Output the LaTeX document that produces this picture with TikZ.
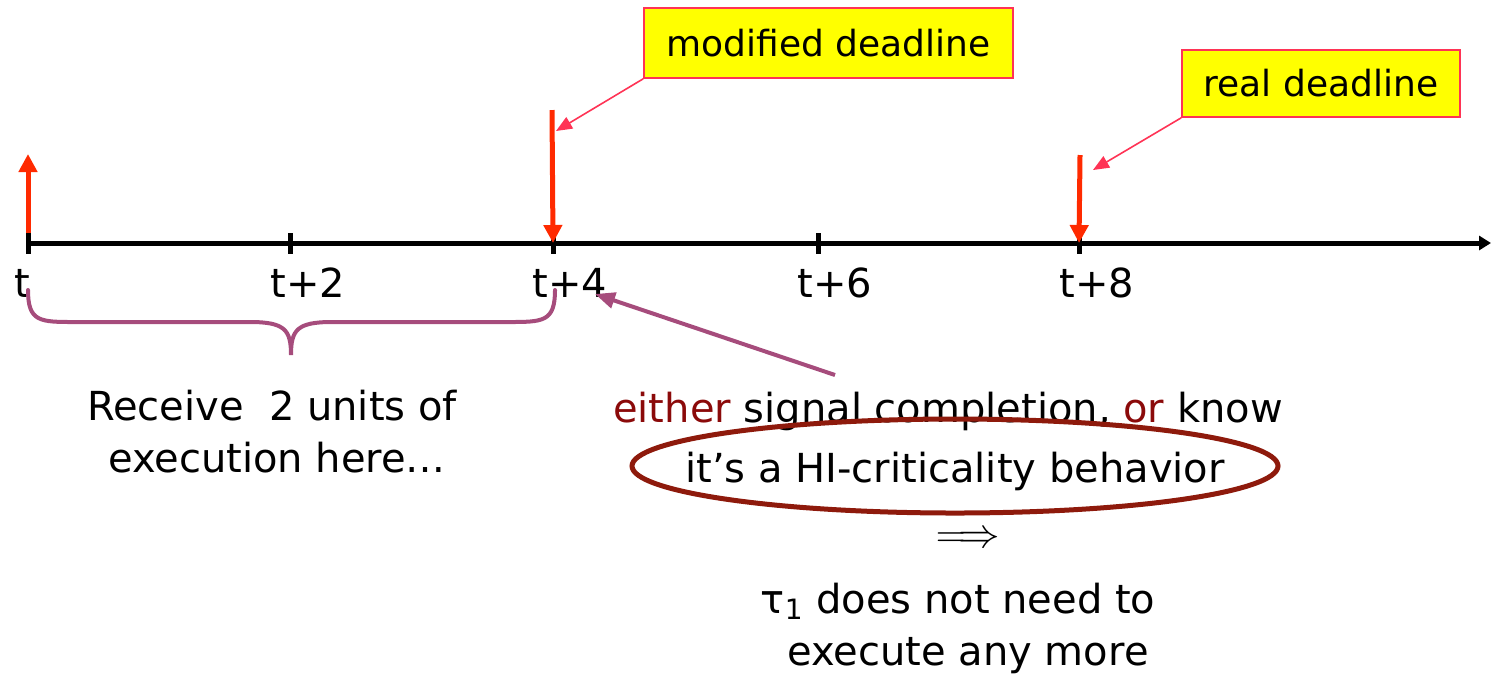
\documentclass[tikz,border=0pt]{standalone}
\usepackage{fontspec}
\setmainfont{DejaVu Sans}
\usetikzlibrary{arrows.meta}
\definecolor{arrowred}{HTML}{FF2A00}
\definecolor{calloutred}{HTML}{FF3355}
\definecolor{noteyellow}{HTML}{FFFF00}
\definecolor{bracepurple}{HTML}{A64C7C}
\definecolor{darkred}{HTML}{8B0A0A}
\definecolor{ringred}{HTML}{8E1A0C}
\newcommand{\lbl}{\fontsize{20}{24}\selectfont}
\newcommand{\notefont}{\fontsize{18}{22}\selectfont}
\tikzset{
  axisline/.style={line width=2.5pt, -{Triangle[length=6pt,width=7pt]}},
  tickmark/.style={line width=2.5pt},
  deadarrow/.style={arrowred, line width=2.5pt, -{Triangle[length=9pt,width=9pt]}},
  callout/.style={draw=calloutred, fill=noteyellow, line width=0.8pt, inner sep=0pt, font=\notefont},
  calloutarrow/.style={calloutred, line width=0.8pt, -{Triangle[length=8pt,width=6.5pt]}},
  ticklabel/.style={anchor=base, inner sep=0pt, font=\lbl},
  textline/.style={anchor=base, inner sep=0pt, font=\lbl},
  brace/.style={bracepurple, line width=2pt, line cap=round},
  pointer/.style={bracepurple, line width=2pt, -{Triangle[length=10pt,width=8pt]}}
}
\begin{document}
\begin{tikzpicture}[x=0.5pt, y=-0.5pt]
\path[use as bounding box] (0,0) rectangle (1491,677);

% time axis
\coordinate (a0) at (28,243);
\coordinate (aend) at (1491,243);
\draw[axisline] (a0) -- (aend);

% ticks
\foreach \n/\x in {0/28, 2/290, 4/553, 6/818, 8/1079}{
  \coordinate (k\n) at (\x,243);
  \draw[tickmark] (\x,233) -- (\x,254);
}
\draw[tickmark] (28,231) -- (28,243);

% tick labels
\node[ticklabel] (l0) at (22,297) {t};
\node[ticklabel] (l2) at (308,297) {t+2};
\node[ticklabel] (l4) at (570,297) {t+4};
\node[ticklabel] (l6) at (835,297) {t+6};
\node[ticklabel] (l8) at (1097,297) {t+8};

% release and deadline arrows
\coordinate (rel) at (28,154);
\draw[deadarrow] (28,233) -- (rel);
\coordinate (md) at (552,110);
\draw[deadarrow] (md) -- (k4);
\coordinate (rd) at (1080,155);
\draw[deadarrow] (rd) -- (k8);

% callouts
\node[callout, minimum width=184.5pt, minimum height=35pt] (mod) at (828.5,43) {modified deadline};
\node[callout, minimum width=139pt, minimum height=33.5pt] (real) at (1321,83.5) {real deadline};
\coordinate (modtip) at (556,131);
\coordinate (realtip) at (1093,170);
\draw[calloutarrow] (mod.south west) -- (modtip);
\draw[calloutarrow] (real.south west) -- (realtip);

% brace under the first interval
\coordinate (bl) at (28,290);
\coordinate (br) at (555,290);
\coordinate (btip) at (291,355);
\draw[brace] (bl) .. controls (28,322) and (40,322) .. (75,322) -- (250,322)
  .. controls (285,322) and (291,330) .. (btip)
  .. controls (291,330) and (297,322) .. (332,322) -- (508,322)
  .. controls (543,322) and (555,322) .. (br);

\node[textline] (rc1) at (272,420) {Receive\ \ 2 units of};
\node[textline] (rc2) at (277,472) {execution here…};

% explanation
\coordinate (pstart) at (835,375);
\coordinate (ptip) at (595,294);
\draw[pointer] (pstart) -- (ptip);

\node[textline] (ex1) at (948,422) {\textcolor{darkred}{either} signal completion, \textcolor{darkred}{or} know};
\node[textline] (ex2) at (955,482) {it’s a HI-criticality behavior};
\draw[ringred, line width=2.5pt] (955,466) ellipse [x radius=161.5pt, y radius=23.5pt];

\node[inner sep=0pt, font=\lbl] (impl) at (968,540) {$\Longrightarrow$};
\node[textline] (c1) at (958,613) {τ\textsubscript{1} does not need to};
\node[textline] (c2) at (968,665) {execute any more};
\end{tikzpicture}
\end{document}
